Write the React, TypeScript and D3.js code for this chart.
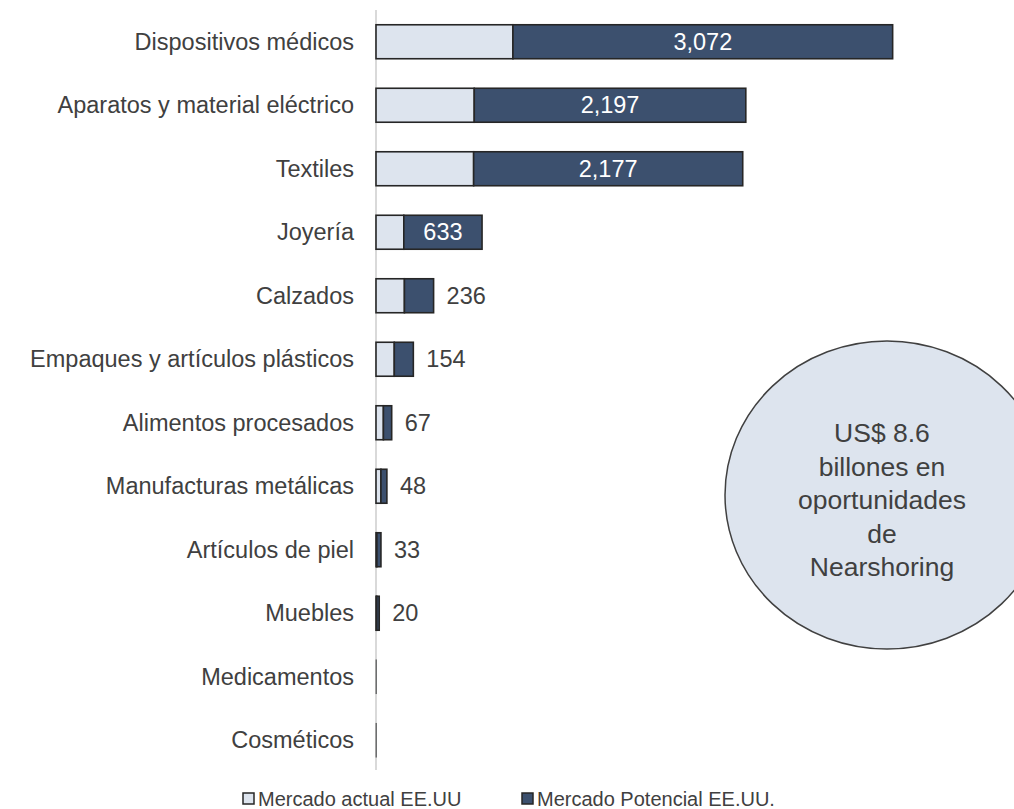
import React from "react";
import { scaleBand, scaleLinear, format } from "d3";

const categories = [
  "Dispositivos médicos",
  "Aparatos y material eléctrico",
  "Textiles",
  "Joyería",
  "Calzados",
  "Empaques y artículos plásticos",
  "Alimentos procesados",
  "Manufacturas metálicas",
  "Artículos de piel",
  "Muebles",
  "Medicamentos",
  "Cosméticos",
];

// Mercado actual EE.UU
const actual = [1108, 795, 790, 225, 230, 148, 60, 40, 7, 6, 0, 0];
// Mercado Potencial EE.UU. (the labelled dark segments)
const potencial = [3072, 2197, 2177, 633, 236, 154, 67, 48, 33, 20, 0, 0];

const legendLabels = ["Mercado actual EE.UU", "Mercado Potencial EE.UU."];
const calloutLines = ["US$ 8.6", "billones en", "oportunidades", "de", "Nearshoring"];

const WIDTH = 1014;
const HEIGHT = 809;
const FONT = "'Liberation Sans', Arial, sans-serif";
const TEXT = "#404040";
const LIGHT = "#dde4ee";
const DARK = "#3c506e";
const EDGE = "#262626";

export default function App() {
  const x = scaleLinear().domain([0, 5000]).range([376, 376 + 5000 * 0.1236]);
  const y = scaleBand<string>()
    .domain(categories)
    .range([10, 772])
    .paddingInner(0.465)
    .paddingOuter(0.2325);
  const fmt = format(",");
  const bw = y.bandwidth();

  return (
    <svg
      width={WIDTH}
      height={HEIGHT}
      style={{ position: "absolute", left: 0, top: 0, background: "#fff" }}
      fontFamily={FONT}
    >
      {/* vertical axis line */}
      <line x1={x(0)} x2={x(0)} y1={10} y2={770} stroke="#d9d9d9" strokeWidth={2} />

      {categories.map((c, i) => {
        const y0 = y(c)!;
        const a = actual[i];
        const p = potencial[i];
        const xa = x(0);
        const xb = x(a);
        const xc = x(a + p);
        const darkW = xc - xb;
        const label = fmt(p);
        const inside = darkW > label.length * 13 + 20;
        return (
          <g key={c}>
            <text
              x={x(0) - 22}
              y={y0 + bw / 2}
              textAnchor="end"
              dominantBaseline="central"
              fontSize={23.5}
              fill={TEXT}
            >
              {c}
            </text>
            <rect
              x={xa}
              y={y0}
              width={Math.max(xb - xa, 0.3)}
              height={bw}
              fill={LIGHT}
              stroke={EDGE}
              strokeWidth={a + p === 0 ? 0.6 : 1.6}
            />
            {p > 0 && (
              <rect x={xb} y={y0} width={darkW} height={bw} fill={DARK} stroke={EDGE} strokeWidth={1.6} />
            )}
            {p > 0 && (
              <text
                x={inside ? (xb + xc) / 2 : xc + 13}
                y={y0 + bw / 2}
                textAnchor={inside ? "middle" : "start"}
                dominantBaseline="central"
                fontSize={23.5}
                fill={inside ? "#fff" : TEXT}
              >
                {label}
              </text>
            )}
          </g>
        );
      })}

      {/* callout */}
      <ellipse cx={887} cy={495} rx={162} ry={154} fill={LIGHT} stroke={TEXT} strokeWidth={1.5} />
      {calloutLines.map((t, i) => (
        <text key={t} x={882} y={442 + i * 33.5} textAnchor="middle" fontSize={26.5} fill={TEXT}>
          {t}
        </text>
      ))}

      {/* legend */}
      {legendLabels.map((t, i) => {
        const lx = i === 0 ? 243 : 522;
        return (
          <g key={t}>
            <rect x={lx} y={793} width={11} height={11} fill={i === 0 ? LIGHT : DARK} stroke={EDGE} strokeWidth={1.5} />
            <text x={lx + 15} y={798.5} dominantBaseline="central" fontSize={20} fill={TEXT}>
              {t}
            </text>
          </g>
        );
      })}
    </svg>
  );
}
